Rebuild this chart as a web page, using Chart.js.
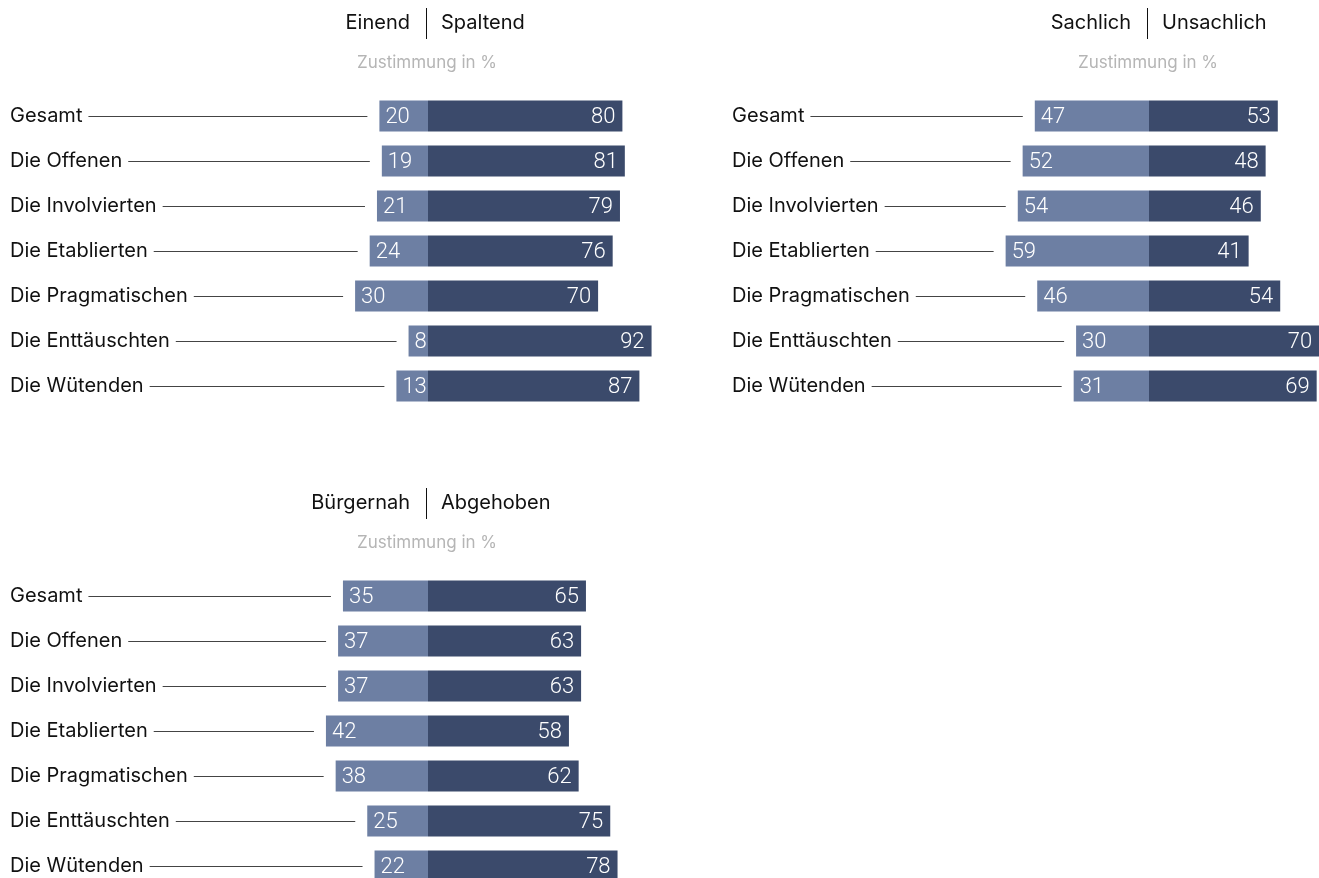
<!DOCTYPE html>
<html>
<head>
<meta charset="utf-8">
<script src="https://cdn.jsdelivr.net/npm/chart.js@4.4.0/dist/chart.umd.min.js"></script>
<style>
  html, body { margin: 0; padding: 0; background: #fff; overflow: hidden; }
  body { width: 1319px; height: 878px; position: relative; }
  canvas { position: absolute; }
</style>
</head>
<body>
<canvas id="p1" width="660" height="420" style="left:0;top:0"></canvas>
<canvas id="p2" width="659" height="420" style="left:660px;top:0"></canvas>
<canvas id="p3" width="660" height="420" style="left:0;top:480px"></canvas>
<script>
// groups (same for all three panels)
const groups = ['Gesamt', 'Die Offenen', 'Die Involvierten', 'Die Etablierten', 'Die Pragmatischen', 'Die Enttäuschten', 'Die Wütenden'];

// panel 1
const einend   = [20, 19, 21, 24, 30, 8, 13];
const spaltend = [80, 81, 79, 76, 70, 92, 87];
// panel 2
const sachlich   = [47, 52, 54, 59, 46, 30, 31];
const unsachlich = [53, 48, 46, 41, 54, 70, 69];
// panel 3
const buergernah = [35, 37, 37, 42, 38, 25, 22];
const abgehoben  = [65, 63, 63, 58, 62, 75, 78];

const subtitle = 'Zustimmung in %';

const LIGHT = '#6d7fa3';
const DARK = '#3b4a6b';
const PPU = 2.43;          // px per percent
const LABEL_FONT = '20px Inter, "Noto Sans", sans-serif';
const VALUE_FONT = '300 22px Roboto, "Noto Sans", sans-serif';

const panelDecor = {
  id: 'panelDecor',
  afterDatasetsDraw(chart, args, opts) {
    const ctx = chart.ctx;
    const x0 = chart.scales.x.getPixelForValue(0);
    const left = chart.getDatasetMeta(0).data;
    const right = chart.getDatasetMeta(1).data;
    ctx.save();

    // header
    ctx.font = LABEL_FONT;
    ctx.fillStyle = '#111';
    ctx.textBaseline = 'middle';
    ctx.textAlign = 'right';
    ctx.fillText(opts.leftTitle, x0 - 18, 23);
    ctx.textAlign = 'left';
    ctx.fillText(opts.rightTitle, x0 + 13, 23);
    ctx.strokeStyle = '#111';
    ctx.lineWidth = 1;
    ctx.beginPath();
    ctx.moveTo(Math.round(x0) - 1.5, 8);
    ctx.lineTo(Math.round(x0) - 1.5, 39);
    ctx.stroke();

    ctx.font = '17px Inter, "Noto Sans", sans-serif';
    ctx.fillStyle = '#b5b5b5';
    ctx.textAlign = 'center';
    ctx.fillText(subtitle, x0 - 1, 63);

    // category labels + leader lines
    chart.data.labels.forEach((lab, i) => {
      const bar = left[i];
      const y = bar.y;
      ctx.font = LABEL_FONT;
      ctx.fillStyle = '#111';
      ctx.textAlign = 'left';
      ctx.fillText(lab, opts.labelX, y);
      const w = ctx.measureText(lab).width;
      ctx.strokeStyle = '#444';
      ctx.beginPath();
      ctx.moveTo(opts.labelX + w + 6, Math.round(y) + 0.5);
      ctx.lineTo(bar.x - 12, Math.round(y) + 0.5);
      ctx.stroke();
    });

    // values
    ctx.font = VALUE_FONT;
    ctx.fillStyle = '#fff';
    chart.data.datasets[0].data.forEach((v, i) => {
      ctx.textAlign = 'left';
      ctx.fillText(String(Math.abs(v)), left[i].x + 6, left[i].y + 1);
    });
    chart.data.datasets[1].data.forEach((v, i) => {
      ctx.textAlign = 'right';
      ctx.fillText(String(v), right[i].x - 7, right[i].y + 1);
    });
    ctx.restore();
  }
};

function makePanel(id, leftVals, rightVals, leftTitle, rightTitle, centerX, labelX) {
  const canvas = document.getElementById(id);
  const W = canvas.width, H = canvas.height;
  const top = 93.5, rowH = 45;
  new Chart(canvas, {
    type: 'bar',
    data: {
      labels: groups,
      datasets: [
        { label: leftTitle, data: leftVals.map(v => -v), backgroundColor: LIGHT },
        { label: rightTitle, data: rightVals, backgroundColor: DARK }
      ]
    },
    options: {
      indexAxis: 'y',
      responsive: false,
      animation: false,
      devicePixelRatio: 1,
      layout: {
        padding: {
          left: centerX - 100 * PPU,
          right: 0,
          top: top,
          bottom: H - top - rowH * groups.length
        }
      },
      datasets: { bar: { barPercentage: 31 / 45, categoryPercentage: 1 } },
      scales: {
        x: { stacked: true, display: false, min: -100, max: (W - centerX) / PPU },
        y: { stacked: true, display: false }
      },
      plugins: {
        legend: { display: false },
        tooltip: { enabled: false },
        panelDecor: { leftTitle, rightTitle, labelX }
      }
    },
    plugins: [panelDecor]
  });
}

makePanel('p1', einend, spaltend, 'Einend', 'Spaltend', 428, 10);
makePanel('p2', sachlich, unsachlich, 'Sachlich', 'Unsachlich', 489, 732 - 660);
makePanel('p3', buergernah, abgehoben, 'Bürgernah', 'Abgehoben', 428, 10);
</script>
</body>
</html>
